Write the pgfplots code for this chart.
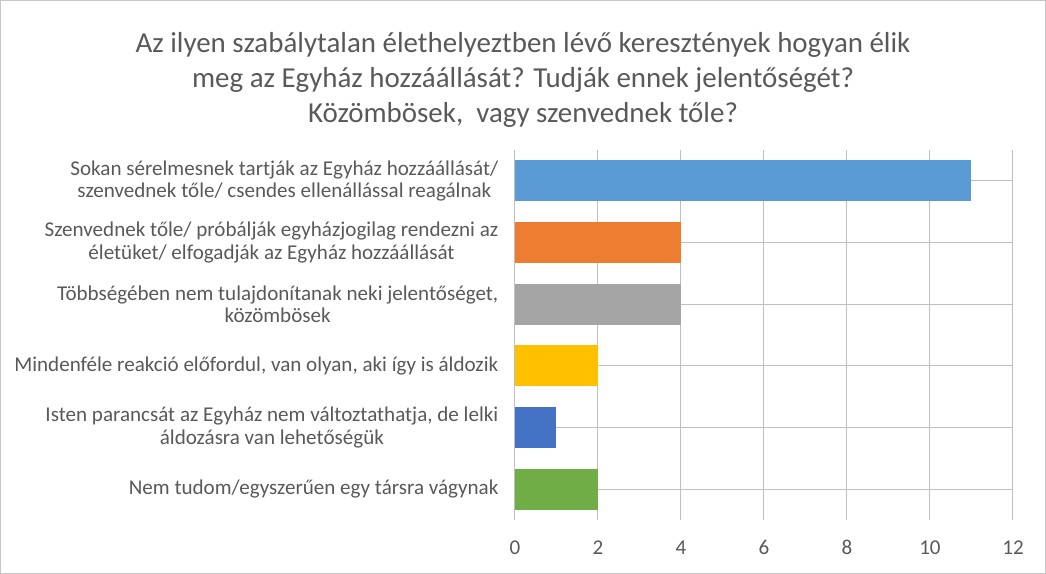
\documentclass[border=0pt]{standalone}
\usepackage{pgfplots}
\pgfplotsset{compat=1.18}
\usepackage{fontspec}
\setmainfont{Carlito}
\definecolor{txt}{HTML}{595959}
\definecolor{grid}{HTML}{D9D9D9}
\definecolor{c1}{HTML}{5B9BD5}
\definecolor{c2}{HTML}{ED7D31}
\definecolor{c3}{HTML}{A5A5A5}
\definecolor{c4}{HTML}{FFC000}
\definecolor{c5}{HTML}{4472C4}
\definecolor{c6}{HTML}{70AD47}
\begin{document}
\begin{tikzpicture}[x=0.75pt,y=0.75pt]
\draw[color=grid!80!gray, line width=0.75pt] (-515+0.5,-54+0.5) rectangle (531-0.5,520-0.5);
\begin{axis}[
  at={(0,0)}, anchor=south west,
  scale only axis, width=373.5pt, height=277.5pt,
  xbar, bar width=0.66, bar shift=0pt,
  xmin=0, xmax=12, ymin=-0.5, ymax=5.5, y dir=reverse,
  xtick={0,2,...,12}, ytick={0,1,2,3,4,5},
  yticklabels={
    {Sokan sérelmesnek tartják az Egyház hozzáállását/\\szenvednek tőle/ csendes ellenállással reagálnak},
    {Szenvednek tőle/ próbálják egyházjogilag rendezni az\\életüket/ elfogadják az Egyház hozzáállását},
    {Többségében nem tulajdonítanak neki jelentőséget,\\közömbösek},
    {Mindenféle reakció előfordul, van olyan, aki így is áldozik},
    {Isten parancsát az Egyház nem változtathatja, de lelki\\áldozásra van lehetőségük},
    {Nem tudom/egyszerűen egy társra vágynak}},
  yticklabel style={align=center, font=\fontsize{15.8pt}{16.7pt}\selectfont, text=txt, xshift=-9pt},
  xticklabel style={font=\fontsize{15.8pt}{16.5pt}\selectfont, text=txt, text height=11pt, text depth=0pt, yshift=-11pt},
  /pgf/number format/assume math mode=true,
  major tick length=0pt,
  axis line style={draw=none},
  xmajorgrids, grid style={grid, line width=0.75pt},
]
\addplot[fill=c1, draw=none] coordinates {(11,0)};
\addplot[fill=c2, draw=none] coordinates {(4,1)};
\addplot[fill=c3, draw=none] coordinates {(4,2)};
\addplot[fill=c4, draw=none] coordinates {(2,3)};
\addplot[fill=c5, draw=none] coordinates {(1,4)};
\addplot[fill=c6, draw=none] coordinates {(2,5)};
\end{axis}
\node[align=center, text=txt, font=\fontsize{21.7pt}{26pt}\selectfont] at (8,440) {Az ilyen szabálytalan élethelyeztben lévő keresztények hogyan élik\\meg az Egyház hozzáállását? Tudják ennek jelentőségét?\\Közömbösek,\ \ vagy szenvednek tőle?};
\end{tikzpicture}
\end{document}
